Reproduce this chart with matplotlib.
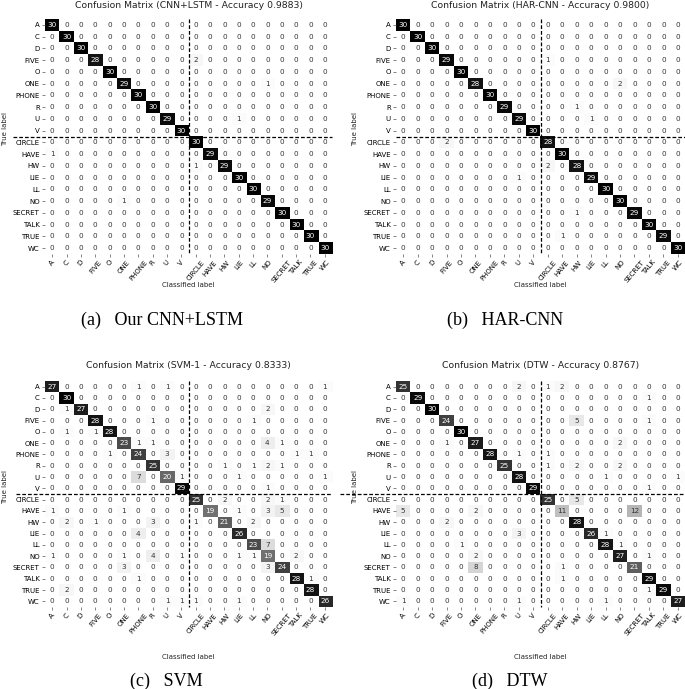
import numpy as np
import matplotlib
matplotlib.use('Agg')
import matplotlib.pyplot as plt

classes = ['A', 'C', 'D', 'FIVE', 'O', 'ONE', 'PHONE', 'R', 'U', 'V',
           'CIRCLE', 'HAVE', 'HW', 'LIE', 'LL', 'NO', 'SECRET', 'TALK', 'TRUE', 'WC']

cm_cnn_lstm = [
    [30,0,0,0,0,0,0,0,0,0, 0,0,0,0,0,0,0,0,0,0],
    [0,30,0,0,0,0,0,0,0,0, 0,0,0,0,0,0,0,0,0,0],
    [0,0,30,0,0,0,0,0,0,0, 0,0,0,0,0,0,0,0,0,0],
    [0,0,0,28,0,0,0,0,0,0, 2,0,0,0,0,0,0,0,0,0],
    [0,0,0,0,30,0,0,0,0,0, 0,0,0,0,0,0,0,0,0,0],
    [0,0,0,0,0,29,0,0,0,0, 0,0,0,0,0,1,0,0,0,0],
    [0,0,0,0,0,0,30,0,0,0, 0,0,0,0,0,0,0,0,0,0],
    [0,0,0,0,0,0,0,30,0,0, 0,0,0,0,0,0,0,0,0,0],
    [0,0,0,0,0,0,0,0,29,0, 0,0,0,1,0,0,0,0,0,0],
    [0,0,0,0,0,0,0,0,0,30, 0,0,0,0,0,0,0,0,0,0],
    [0,0,0,0,0,0,0,0,0,0, 30,0,0,0,0,0,0,0,0,0],
    [1,0,0,0,0,0,0,0,0,0, 0,29,0,0,0,0,0,0,0,0],
    [0,0,0,0,0,0,0,0,0,0, 1,0,29,0,0,0,0,0,0,0],
    [0,0,0,0,0,0,0,0,0,0, 0,0,0,30,0,0,0,0,0,0],
    [0,0,0,0,0,0,0,0,0,0, 0,0,0,0,30,0,0,0,0,0],
    [0,0,0,0,0,1,0,0,0,0, 0,0,0,0,0,29,0,0,0,0],
    [0,0,0,0,0,0,0,0,0,0, 0,0,0,0,0,0,30,0,0,0],
    [0,0,0,0,0,0,0,0,0,0, 0,0,0,0,0,0,0,30,0,0],
    [0,0,0,0,0,0,0,0,0,0, 0,0,0,0,0,0,0,0,30,0],
    [0,0,0,0,0,0,0,0,0,0, 0,0,0,0,0,0,0,0,0,30],
]

cm_har_cnn = [
    [30,0,0,0,0,0,0,0,0,0, 0,0,0,0,0,0,0,0,0,0],
    [0,30,0,0,0,0,0,0,0,0, 0,0,0,0,0,0,0,0,0,0],
    [0,0,30,0,0,0,0,0,0,0, 0,0,0,0,0,0,0,0,0,0],
    [0,0,0,29,0,0,0,0,0,0, 1,0,0,0,0,0,0,0,0,0],
    [0,0,0,0,30,0,0,0,0,0, 0,0,0,0,0,0,0,0,0,0],
    [0,0,0,0,0,28,0,0,0,0, 0,0,0,0,0,2,0,0,0,0],
    [0,0,0,0,0,0,30,0,0,0, 0,0,0,0,0,0,0,0,0,0],
    [0,0,0,0,0,0,0,29,0,0, 0,0,1,0,0,0,0,0,0,0],
    [0,0,0,0,0,0,0,0,29,0, 0,0,0,1,0,0,0,0,0,0],
    [0,0,0,0,0,0,0,0,0,30, 0,0,0,0,0,0,0,0,0,0],
    [0,0,0,2,0,0,0,0,0,0, 28,0,0,0,0,0,0,0,0,0],
    [0,0,0,0,0,0,0,0,0,0, 0,30,0,0,0,0,0,0,0,0],
    [0,0,0,0,0,0,0,0,0,0, 2,0,28,0,0,0,0,0,0,0],
    [0,0,0,0,0,0,0,0,1,0, 0,0,0,29,0,0,0,0,0,0],
    [0,0,0,0,0,0,0,0,0,0, 0,0,0,0,30,0,0,0,0,0],
    [0,0,0,0,0,0,0,0,0,0, 0,0,0,0,0,30,0,0,0,0],
    [0,0,0,0,0,0,0,0,0,0, 0,0,1,0,0,0,29,0,0,0],
    [0,0,0,0,0,0,0,0,0,0, 0,0,0,0,0,0,0,30,0,0],
    [0,0,0,0,0,0,0,0,0,0, 0,1,0,0,0,0,0,0,29,0],
    [0,0,0,0,0,0,0,0,0,0, 0,0,0,0,0,0,0,0,0,30],
]

cm_svm = [
    [27,0,0,0,0,0,1,0,1,0, 0,0,0,0,0,0,0,0,0,1],
    [0,30,0,0,0,0,0,0,0,0, 0,0,0,0,0,0,0,0,0,0],
    [0,1,27,0,0,0,0,0,0,0, 0,0,0,0,0,2,0,0,0,0],
    [0,0,0,28,0,0,0,1,0,0, 0,0,0,0,1,0,0,0,0,0],
    [0,1,0,1,28,0,0,0,0,0, 0,0,0,0,0,0,0,0,0,0],
    [0,0,0,0,0,23,1,1,0,0, 0,0,0,0,0,4,1,0,0,0],
    [0,0,0,0,1,0,24,0,3,0, 0,0,0,0,0,0,0,1,1,0],
    [0,0,0,0,0,0,0,25,0,0, 0,0,1,0,1,2,1,0,0,0],
    [0,0,0,0,0,0,7,0,20,1, 0,0,0,1,0,0,0,0,0,1],
    [0,0,0,0,0,0,0,0,0,29, 0,0,0,0,0,1,0,0,0,0],
    [0,0,0,0,0,0,0,0,0,0, 25,0,2,0,0,2,1,0,0,0],
    [1,0,0,0,0,1,0,0,0,0, 0,19,0,1,0,3,5,0,0,0],
    [0,2,0,1,0,0,0,3,0,0, 1,0,21,0,2,0,0,0,0,0],
    [0,0,0,0,0,0,4,0,0,0, 0,0,0,26,0,0,0,0,0,0],
    [0,0,0,0,0,0,0,0,0,0, 0,0,0,0,23,7,0,0,0,0],
    [1,0,0,0,0,1,0,4,0,1, 0,0,0,1,1,19,0,2,0,0],
    [0,0,0,0,0,3,0,0,0,0, 0,0,0,0,0,3,24,0,0,0],
    [0,0,0,0,0,0,1,0,0,0, 0,0,0,0,0,0,0,28,1,0],
    [0,2,0,0,0,0,0,0,0,0, 0,0,0,0,0,0,0,0,28,0],
    [0,0,0,0,0,0,0,0,1,1, 1,0,0,1,0,0,0,0,0,26],
]

cm_dtw = [
    [25,0,0,0,0,0,0,0,2,0, 1,2,0,0,0,0,0,0,0,0],
    [0,29,0,0,0,0,0,0,0,0, 0,0,0,0,0,0,0,1,0,0],
    [0,0,30,0,0,0,0,0,0,0, 0,0,0,0,0,0,0,0,0,0],
    [0,0,0,24,0,0,0,0,0,0, 0,0,5,0,0,0,0,1,0,0],
    [0,0,0,0,30,0,0,0,0,0, 0,0,0,0,0,0,0,0,0,0],
    [0,0,0,1,0,27,0,0,0,0, 0,0,0,0,0,2,0,0,0,0],
    [0,0,0,0,0,0,28,0,1,0, 1,0,0,0,0,0,0,0,0,0],
    [0,0,0,0,0,0,0,25,0,0, 1,0,2,0,0,2,0,0,0,0],
    [0,0,0,0,0,0,0,0,28,0, 0,0,0,0,1,0,0,0,0,1],
    [0,0,0,0,0,0,0,0,0,29, 0,0,0,0,0,0,0,1,0,0],
    [0,0,0,0,0,0,0,0,0,0, 25,0,5,0,0,0,0,0,0,0],
    [5,0,0,0,0,2,0,0,0,0, 0,11,0,0,0,0,12,0,0,0],
    [0,0,0,2,0,0,0,0,0,0, 0,0,28,0,0,0,0,0,0,0],
    [0,0,0,0,0,0,0,0,3,0, 0,0,0,26,1,0,0,0,0,0],
    [0,0,0,0,1,0,0,0,0,0, 0,0,0,0,28,1,0,0,0,0],
    [0,0,0,0,0,2,0,0,0,0, 0,0,0,0,0,27,0,1,0,0],
    [0,0,0,0,0,8,0,0,0,0, 0,1,0,0,0,0,21,0,0,0],
    [0,0,0,0,0,0,0,0,0,0, 0,1,0,0,0,0,0,29,0,0],
    [0,0,0,0,0,0,0,0,0,0, 0,0,0,0,0,0,0,1,29,0],
    [1,0,0,0,0,0,0,0,1,0, 0,0,0,0,1,0,0,0,0,27],
]

model_names = ['CNN+LSTM', 'HAR-CNN', 'SVM-1', 'DTW']
captions = ['(a)   Our CNN+LSTM', '(b)   HAR-CNN', '(c)   SVM', '(d)   DTW']
matrices = [cm_cnn_lstm, cm_har_cnn, cm_svm, cm_dtw]

W, H = 685, 689
fig = plt.figure(figsize=(W / 100, H / 100), dpi=100)
fig.patch.set_facecolor('white')

# pixel boxes (x0, y0, x1, y1) for each matrix
boxes = [(45, 19, 332, 254), (396, 19, 685, 254),
         (45, 381, 332, 607), (396, 381, 685, 607)]
hline_start = [-2.7, -0.5, -2.5, -4.4]
title_y = [5, 5, 366, 366]
xlabel_y = [285, 285, 657, 657]
caption_x = [162, 505, 166, 510]
caption_y = [320, 320, 681, 681]
ylabel_x = [5, 355, 5, 355]

FS_TICK = 5.0
FS_CELL = 5.2
for i, (cm, name) in enumerate(zip(matrices, model_names)):
    cm = np.array(cm)
    x0, y0, x1, y1 = boxes[i]
    ax = fig.add_axes([x0 / W, 1 - y1 / H, (x1 - x0) / W, (y1 - y0) / H])
    ax.imshow(cm, cmap='Greys', vmin=0, vmax=cm.max(), aspect='auto',
              interpolation='nearest')
    n = len(classes)
    thresh = cm.max() / 2.0
    for r in range(n):
        for c in range(n):
            v = cm[r, c]
            ax.text(c, r, str(v), ha='center', va='center', fontsize=FS_CELL,
                    color='white' if v > thresh else '#333333')
    ax.set_xticks(range(n))
    ax.set_yticks(range(n))
    ax.set_xticklabels(classes, rotation=50, fontsize=FS_TICK)
    ax.set_yticklabels(classes, fontsize=FS_TICK)
    ax.tick_params(length=2.5, width=0.5, color='#555555', pad=1.2)
    for s in ax.spines.values():
        s.set_visible(False)
    ax.set_xlim(-0.5, n - 0.5)
    ax.set_ylim(n - 0.5, -0.5)
    ax.plot([9.5, 9.5], [-0.5, n - 0.5], color='black', lw=0.9,
            ls=(0, (3, 1.6)), clip_on=False)
    ax.plot([hline_start[i], n - 0.5], [9.5, 9.5], color='black', lw=0.9,
            ls=(0, (3, 1.6)), clip_on=False)

    acc = np.trace(cm) / cm.sum()
    cx = (x0 + x1) / 2
    fig.text(cx / W, 1 - title_y[i] / H,
             'Confusion Matrix (%s - Accuracy %.4f)' % (name, acc),
             ha='center', va='center', fontsize=6.7, color='#222222')
    fig.text(cx / W, 1 - xlabel_y[i] / H, 'Classified label',
             ha='center', va='center', fontsize=5.0, color='#222222')
    fig.text(ylabel_x[i] / W, 1 - ((y0 + y1) / 2 - 7) / H, 'True label',
             ha='center', va='center', rotation=90, fontsize=5.0,
             color='#222222')
    fig.text(caption_x[i] / W, 1 - caption_y[i] / H, captions[i],
             ha='center', va='center', fontsize=13,
             family='Liberation Serif', color='black')

fig.savefig('out.png', dpi=100, facecolor='white')
